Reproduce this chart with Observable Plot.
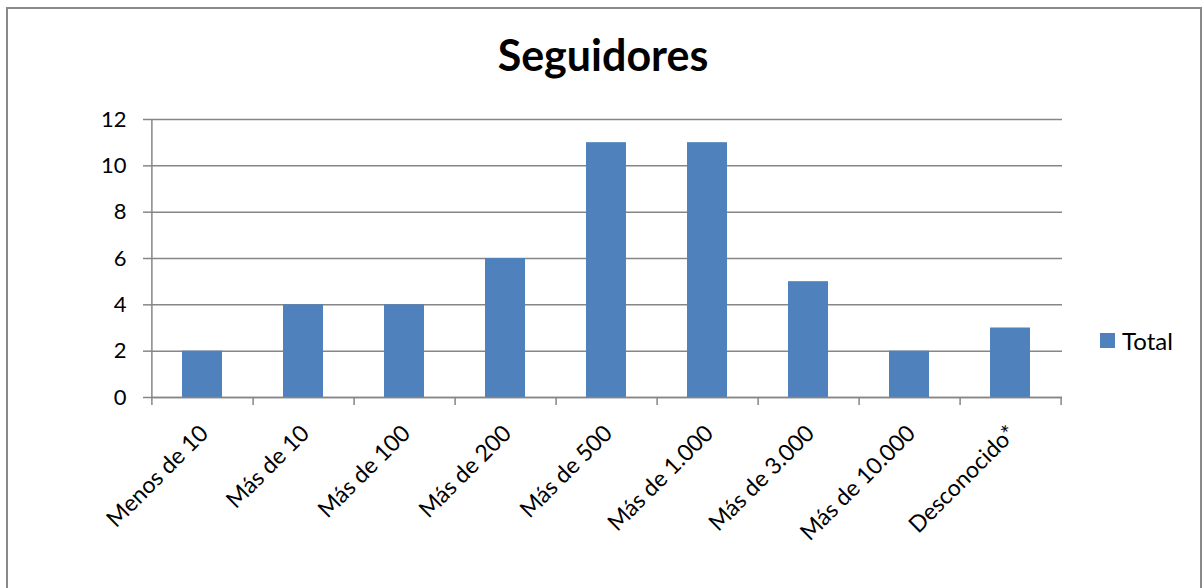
<!DOCTYPE html>
<html><head><meta charset="utf-8">
<script src="https://cdn.jsdelivr.net/npm/d3@7"></script>
<script src="https://cdn.jsdelivr.net/npm/@observablehq/plot@0.6"></script>
<style>
body{margin:0;background:#fff;font-family:Lato,sans-serif}
#wrap{position:relative;width:1202px;height:588px;overflow:hidden;background:#fff}
#border{position:absolute;left:6px;top:7px;width:1196px;height:620px;border:2px solid #8a8a8a;border-bottom:none;box-sizing:border-box}
#title{position:absolute;left:0;width:1206px;top:30px;text-align:center;font-weight:bold;font-size:43px;line-height:50px;color:#000}
#legend{position:absolute;left:1100px;top:326px;display:flex;align-items:center;font-size:24px;color:#000}
#legend .sw{width:15px;height:15px;background:#4F81BD;margin-right:7px}
svg{position:absolute;left:0;top:0}
</style>
</head><body>
<div id="wrap">
<div id="border"></div>
<div id="title">Seguidores</div>
<div id="legend"><div class="sw"></div><span>Total</span></div>
</div>
<script>
const categories = ["Menos de 10","Más de 10","Más de 100","Más de 200","Más de 500","Más de 1.000","Más de 3.000","Más de 10.000","Desconocido*"];
const values = [2,4,4,6,11,11,5,2,3];
const yTicks = [0,2,4,6,8,10,12];
const seriesName = "Total";

const data = categories.map((c,i)=>({cat:c, value:values[i]}));
const W = 1202, H = 588, mL = 151, mR = 140, mT = 119, mB = 191;
const step = (W - mL - mR) / categories.length;
const gray = "#868686";

const chart = Plot.plot({
  width: W, height: H,
  marginLeft: mL, marginRight: mR, marginTop: mT, marginBottom: mB,
  style: {fontFamily: "Lato, sans-serif", background: "transparent", overflow: "visible"},
  x: {domain: categories, paddingInner: 0.6, paddingOuter: 0.3, label: null},
  y: {domain: [0, 12], label: null},
  marks: [
    Plot.gridY(yTicks, {stroke: gray, strokeOpacity: 1, strokeWidth: 1.5}),
    Plot.barY(data, {x: "cat", y: "value", fill: "#4F81BD"}),
    Plot.ruleY([0], {stroke: gray, strokeWidth: 1.5}),
    Plot.ruleX([categories[0]], {y1: 12, y2: 0, dx: -step/2, insetBottom: -8, stroke: gray, strokeWidth: 1.5}),
    Plot.ruleX(categories, {y1: 0, y2: 0, dx: step/2, insetBottom: -8, stroke: gray, strokeWidth: 1.5}),
    Plot.axisY(yTicks, {tickSize: 8, tickPadding: 17, stroke: gray, strokeWidth: 1.5, fill: "#000", fontSize: 22, label: null}),
    Plot.axisX({tickSize: 0, tickPadding: 32, tickRotate: -45, dx: 2, fill: "#000", fontSize: 23, label: null})
  ]
});
document.getElementById("wrap").appendChild(chart);
</script>
</body></html>
